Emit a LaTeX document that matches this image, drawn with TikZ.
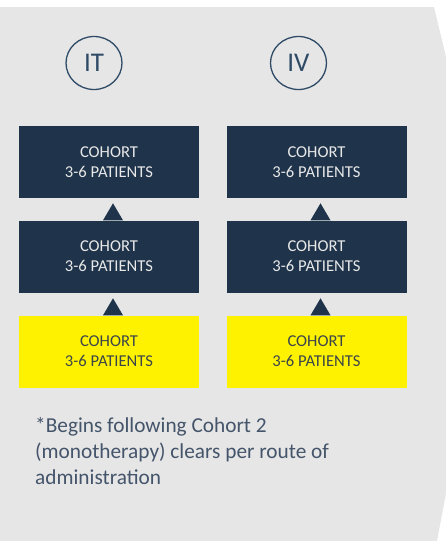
\documentclass[tikz,border=0pt]{standalone}
\usepackage{fontspec}
\setmainfont{Carlito}
\usetikzlibrary{calc,shapes.geometric}
\definecolor{bggray}{HTML}{E6E6E6}
\definecolor{navy}{HTML}{1F344B}
\definecolor{ringblue}{HTML}{2E4A66}
\definecolor{notegray}{HTML}{44546A}
\definecolor{yeltext}{HTML}{3A454A}
\definecolor{boxtext}{HTML}{E8E8E8}
\tikzset{
  cohort/.style={rectangle, minimum width=180pt, minimum height=72pt, inner sep=0pt,
    align=center, font=\fontsize{16.6}{20}\selectfont},
  darkbox/.style={cohort, fill=navy, text=boxtext},
  yelbox/.style={cohort, fill=yellow, text=yeltext},
  route/.style={ellipse, draw=ringblue, line width=1.3pt, minimum width=56pt, minimum height=53pt,
    inner sep=0pt, text=ringblue, font=\fontsize{27}{30}\selectfont},
  tip/.style={fill=navy},
}
\begin{document}
\begin{tikzpicture}[x=1pt,y=-1pt]
\useasboundingbox (0,0) rectangle (446,541);
\fill[white] (0,0) rectangle (446,541);
\fill[bggray] (0,7) -- (434,7) -- (446,57) -- (446,493) -- (437,541) -- (0,541) -- cycle;

\node[route] (it) at (94,63) {IT};
\node[route] (iv) at (298.5,63) {IV};

\node[darkbox] (l1) at (109,162) {COHORT\\3-6 PATIENTS};
\node[darkbox] (l2) at (109,256.5) {COHORT\\3-6 PATIENTS};
\node[yelbox]  (l3) at (109,351.5) {COHORT\\3-6 PATIENTS};
\node[darkbox] (r1) at (316.5,162) {COHORT\\3-6 PATIENTS};
\node[darkbox] (r2) at (316.5,256.5) {COHORT\\3-6 PATIENTS};
\node[yelbox]  (r3) at (316.5,351.5) {COHORT\\3-6 PATIENTS};

\foreach \lo/\hi in {l2/l1, l3/l2, r2/r1, r3/r2}{
  \fill[tip] ($(\lo.north)+(-6,0)$) -- ($(\lo.north)+(4,-17)$) -- ($(\lo.north)+(14,0)$) -- cycle;
}

\node[anchor=north west, align=left, text=notegray, font=\fontsize{21.3}{26}\selectfont, inner sep=0pt]
  (note) at (35,417) {*Begins following Cohort 2\\(monotherapy) clears per route of\\administration};
\end{tikzpicture}
\end{document}
